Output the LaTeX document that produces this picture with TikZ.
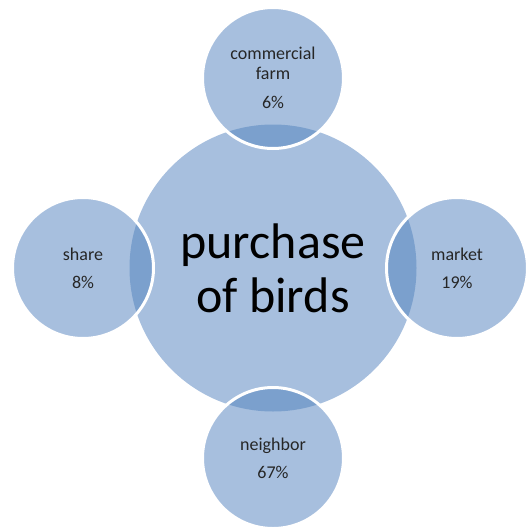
\documentclass[tikz,border=0pt]{standalone}
\usepackage{fontspec}
\setmainfont{Carlito}
\definecolor{bubblefill}{HTML}{A7BFDE}
\definecolor{lensfill}{HTML}{7BA0CD}
\tikzset{
	bubble/.style={circle, fill=bubblefill, inner sep=0pt, align=center},
	sat/.style={bubble, minimum size=141pt, text=black!85,
		font=\fontsize{18}{20}\selectfont},
	rim/.style={white, line width=3pt}
}
\begin{document}
\begin{tikzpicture}[x=1pt, y=-1pt, line join=round]
			\useasboundingbox (0,0) rectangle (526,528);
			\node [bubble, minimum size=287pt, font=\fontsize{50}{54}\selectfont] (hub) at (273,268) {purchase\\of birds};
			\node [sat] (farm) at (273,78) {commercial\\farm\\[9pt]6\%};
			\node [sat] (share) at (83,268) {share\\[8pt]8\%};
			\node [sat] (market) at (457,268) {market\\[8pt]19\%};
			\node [sat] (neighbor) at (273,458) {neighbor\\[8pt]67\%};
			\begin{scope}
				\clip (hub.center) circle (143.5);
				\foreach \n in {farm,share,market,neighbor}{
					\fill [lensfill] (\n.center) circle (70.5);
				}
			\end{scope}
			\foreach \n in {farm,share,market,neighbor}{
				\draw [rim] (\n.center) circle (70.5);
			}
		\end{tikzpicture}
\end{document}
